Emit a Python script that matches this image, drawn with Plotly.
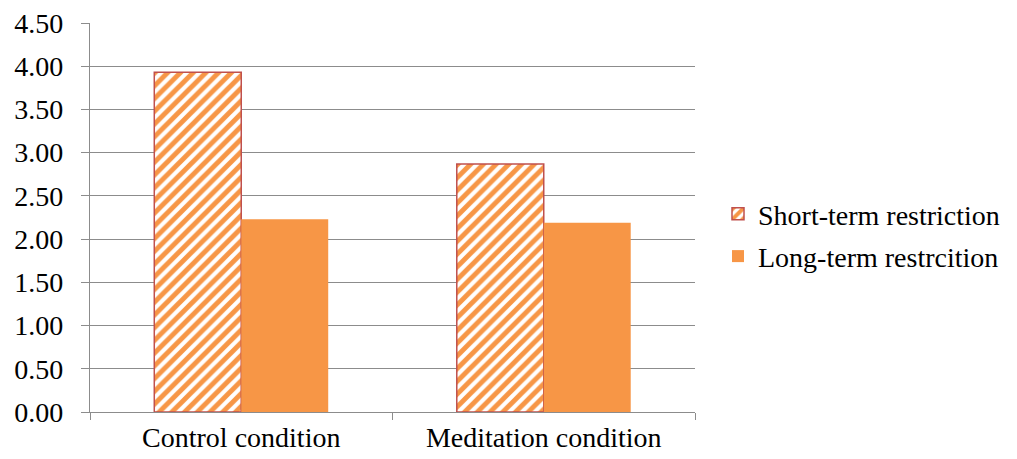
import plotly.graph_objects as go

conditions = ["Control condition", "Meditation condition"]
short_term = [3.93, 2.87]
long_term = [2.23, 2.19]
y_ticks = [0, 0.5, 1.0, 1.5, 2.0, 2.5, 3.0, 3.5, 4.0, 4.5]

ORANGE = "#F79646"
RED = "#C0504D"
FONT = "Liberation Serif"
FS = 28

fig = go.Figure()
fig.add_trace(go.Bar(
    x=conditions, y=short_term, name="Short-term restriction",
    marker=dict(
        color="white",
        line=dict(color=RED, width=1.5),
        pattern=dict(shape="/", fgcolor=ORANGE, bgcolor="white",
                     size=9, solidity=0.55, fillmode="replace"),
    ),
    legendgroup="a",
))
fig.add_trace(go.Bar(
    x=conditions, y=long_term, name="Long-term restrcition",
    marker=dict(color=ORANGE, line=dict(width=0)),
    legendgroup="b",
))

fig.update_layout(
    width=1017, height=459,
    margin=dict(l=90, r=322, t=23, b=47),
    plot_bgcolor="white", paper_bgcolor="white",
    barmode="group", bargap=0.425, bargroupgap=0,
    font=dict(family=FONT, size=FS, color="black"),
    showlegend=True,
    legend=dict(xref="container", yref="container",
                x=0.706, y=0.488, xanchor="left", yanchor="middle",
                traceorder="grouped", tracegroupgap=3,
                font=dict(family=FONT, size=FS, color="black"),
                itemwidth=30),
)
fig.update_xaxes(
    showline=True, linecolor="#8c8c8c", linewidth=1.3,
    ticks="outside", tickson="boundaries", ticklen=7, tickcolor="#8c8c8c",
    tickfont=dict(family=FONT, size=FS), showgrid=False, automargin=False,
    ticklabelstandoff=0,
)
fig.update_yaxes(
    range=[0, 4.5], tickvals=y_ticks, ticktext=[f"{v:.2f}" for v in y_ticks],
    showline=True, linecolor="#8c8c8c", linewidth=1.3,
    ticks="outside", ticklen=8, tickcolor="#8c8c8c",
    showgrid=True, gridcolor="#8c8c8c", gridwidth=1.3, zeroline=False,
    tickfont=dict(family=FONT, size=FS), automargin=False,
    ticklabelstandoff=12,
)

fig.write_html("out.html")
